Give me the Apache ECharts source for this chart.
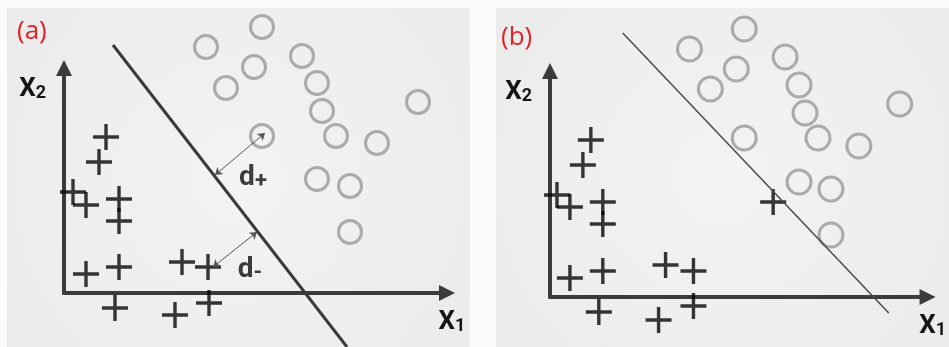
<!DOCTYPE html>
<html>
<head>
<meta charset="utf-8">
<script src="https://cdn.jsdelivr.net/npm/echarts@6/dist/echarts.min.js"></script>
<style>
  html, body { margin: 0; padding: 0; background: #fbfbfb; }
  #chart { width: 949px; height: 347px; }
</style>
</head>
<body>
<div id="chart"></div>
<script>
// points are in x1 / x2 units measured from each panel's axis origin
var circlesA = [[198,266],[142,246],[190,226],[238,237],[162,205],[253,210],[258,182],
                [354,191],[198,157],[272,157],[313,150],[253,114],[286,107],[286,61]];
var plusesA  = [[42,156],[35,131],[9,101],[22,88],[55,94],[55,72],[22,19],[55,26],
                [118,31],[144,26],[51,-15],[111,-22],[145,-10]];
var boundaryA = [[49,248],[283,-54]];
var marginPlus  = [[151,118],[201,160]];
var marginMinus = [[149,26],[193,61]];
var marginLabels = [{name:'+', value:[189,115]}, {name:'-', value:[186,23]}];

var circlesB = [[195,268],[140,248],[187,228],[236,240],[161,208],[250,212],[256,184],
                [351,193],[195,159],[269,159],[310,151],[250,115],[282,108],[282,62]];
var plusesB  = [[41,157],[33,132],[7,102],[20,90],[53,95],[53,73],[20,19],[53,26],
                [116,32],[144,26],[49,-15],[109,-23],[144,-9],[224,95]];
var boundaryB = [[73,264],[340,-16]];

var CROSS = 'path://M11.3,0H14.7V11.3H26V14.7H14.7V26H11.3V14.7H0V11.3H11.3Z';
var axisColor = '#3b3b3b';
var labelFont = 'Roboto, "DejaVu Sans Condensed", sans-serif';

var chart = echarts.init(document.getElementById('chart'));

function nameRich(){
  return {
    x: { fontSize: 26, fontWeight: 'bold', fontFamily: labelFont, color: '#161616', lineHeight: 26 },
    s: { fontSize: 18, fontWeight: 'bold', fontFamily: labelFont, color: '#161616', lineHeight: 15, verticalAlign: 'bottom' }
  };
}

function xAxisFor(idx, max){
  return {
    gridIndex: idx, type: 'value', min: 0, max: max,
    axisLine: { show: true, onZero: false, symbol: ['none','triangle'], symbolSize: [16,16],
      lineStyle: { color: axisColor, width: 4 } },
    axisTick: { show: false }, axisLabel: { show: false }, splitLine: { show: false },
    name: '{x|X}{s|1}', nameLocation: 'end', nameGap: 5,
    nameTextStyle: { rich: nameRich(), align: 'center', verticalAlign: 'top', padding: [16,0,0,0] }
  };
}
function yAxisFor(idx, max){
  return {
    gridIndex: idx, type: 'value', min: 0, max: max,
    axisLine: { show: true, onZero: false, symbol: ['none','triangle'], symbolSize: [16,16],
      lineStyle: { color: axisColor, width: 4 } },
    axisTick: { show: false }, axisLabel: { show: false }, splitLine: { show: false },
    name: '{x|X}{s|2}', nameLocation: 'end', nameGap: -8,
    nameTextStyle: { rich: nameRich(), align: 'right', verticalAlign: 'top', padding: [0,18,0,0] }
  };
}

var panelFill = {
  type: 'radial', x: 0.5, y: 0.5, r: 0.8,
  colorStops: [{ offset: 0, color: '#f3f3f3' }, { offset: 1, color: '#ebebeb' }]
};

var option = {
  animation: false,
  backgroundColor: '#fbfbfb',
  graphic: [
    { type: 'rect', z: -10, shape: { x: 7, y: 8, width: 463, height: 339 }, style: { fill: panelFill } },
    { type: 'rect', z: -10, shape: { x: 496, y: 8, width: 453, height: 339 }, style: { fill: panelFill } },
    { type: 'text', left: 17, top: 19, style: { text: '(a)', fontSize: 26, fontFamily: '"Open Sans", Lato, sans-serif', fill: '#e2222a' } },
    { type: 'text', left: 501, top: 25, style: { text: '(b)', fontSize: 26, fontFamily: '"Open Sans", Lato, sans-serif', fill: '#e2222a' } }
  ],
  grid: [
    { left: 64, top: 68, width: 383, height: 225 },
    { left: 550, top: 71, width: 379, height: 226 }
  ],
  xAxis: [ xAxisFor(0, 383), xAxisFor(1, 379) ],
  yAxis: [ yAxisFor(0, 225), yAxisFor(1, 226) ],
  series: [
    {
      type: 'line', xAxisIndex: 0, yAxisIndex: 0, data: boundaryA, showSymbol: false, clip: false, silent: true,
      lineStyle: { color: '#3a3a3a', width: 3 },
      markLine: {
        silent: true, symbol: ['arrow','arrow'], symbolSize: 7,
        lineStyle: { color: '#555', width: 1, type: 'solid' }, label: { show: false },
        data: [
          [{ coord: marginPlus[0] }, { coord: marginPlus[1] }],
          [{ coord: marginMinus[0] }, { coord: marginMinus[1] }]
        ]
      }
    },
    {
      type: 'scatter', xAxisIndex: 0, yAxisIndex: 0, data: circlesA, clip: false, silent: true,
      symbol: 'circle', symbolSize: 23,
      itemStyle: { color: 'rgba(0,0,0,0)', borderColor: '#999', borderWidth: 3 }
    },
    {
      type: 'scatter', xAxisIndex: 0, yAxisIndex: 0, data: plusesA, clip: false, silent: true,
      symbol: CROSS, symbolSize: 26, itemStyle: { color: '#050505' }
    },
    {
      type: 'scatter', xAxisIndex: 0, yAxisIndex: 0, data: marginLabels, clip: false, silent: true,
      symbolSize: 0,
      label: {
        show: true, position: 'inside', formatter: function (p) { return '{d|d}{s|' + p.name + '}'; },
        rich: {
          d: { fontSize: 28, fontWeight: 'bold', fontFamily: labelFont, color: '#0e0e0e', lineHeight: 28 },
          s: { fontSize: 22, fontWeight: 'bold', fontFamily: labelFont, color: '#0e0e0e', lineHeight: 20, verticalAlign: 'bottom' }
        }
      }
    },
    {
      type: 'line', xAxisIndex: 1, yAxisIndex: 1, data: boundaryB, showSymbol: false, clip: false, silent: true,
      lineStyle: { color: '#4a4a4a', width: 1.5 }
    },
    {
      type: 'scatter', xAxisIndex: 1, yAxisIndex: 1, data: circlesB, clip: false, silent: true,
      symbol: 'circle', symbolSize: 24,
      itemStyle: { color: 'rgba(0,0,0,0)', borderColor: '#999', borderWidth: 3 }
    },
    {
      type: 'scatter', xAxisIndex: 1, yAxisIndex: 1, data: plusesB, clip: false, silent: true,
      symbol: CROSS, symbolSize: 26, itemStyle: { color: '#050505' }
    }
  ]
};

chart.setOption(option);
</script>
</body>
</html>
